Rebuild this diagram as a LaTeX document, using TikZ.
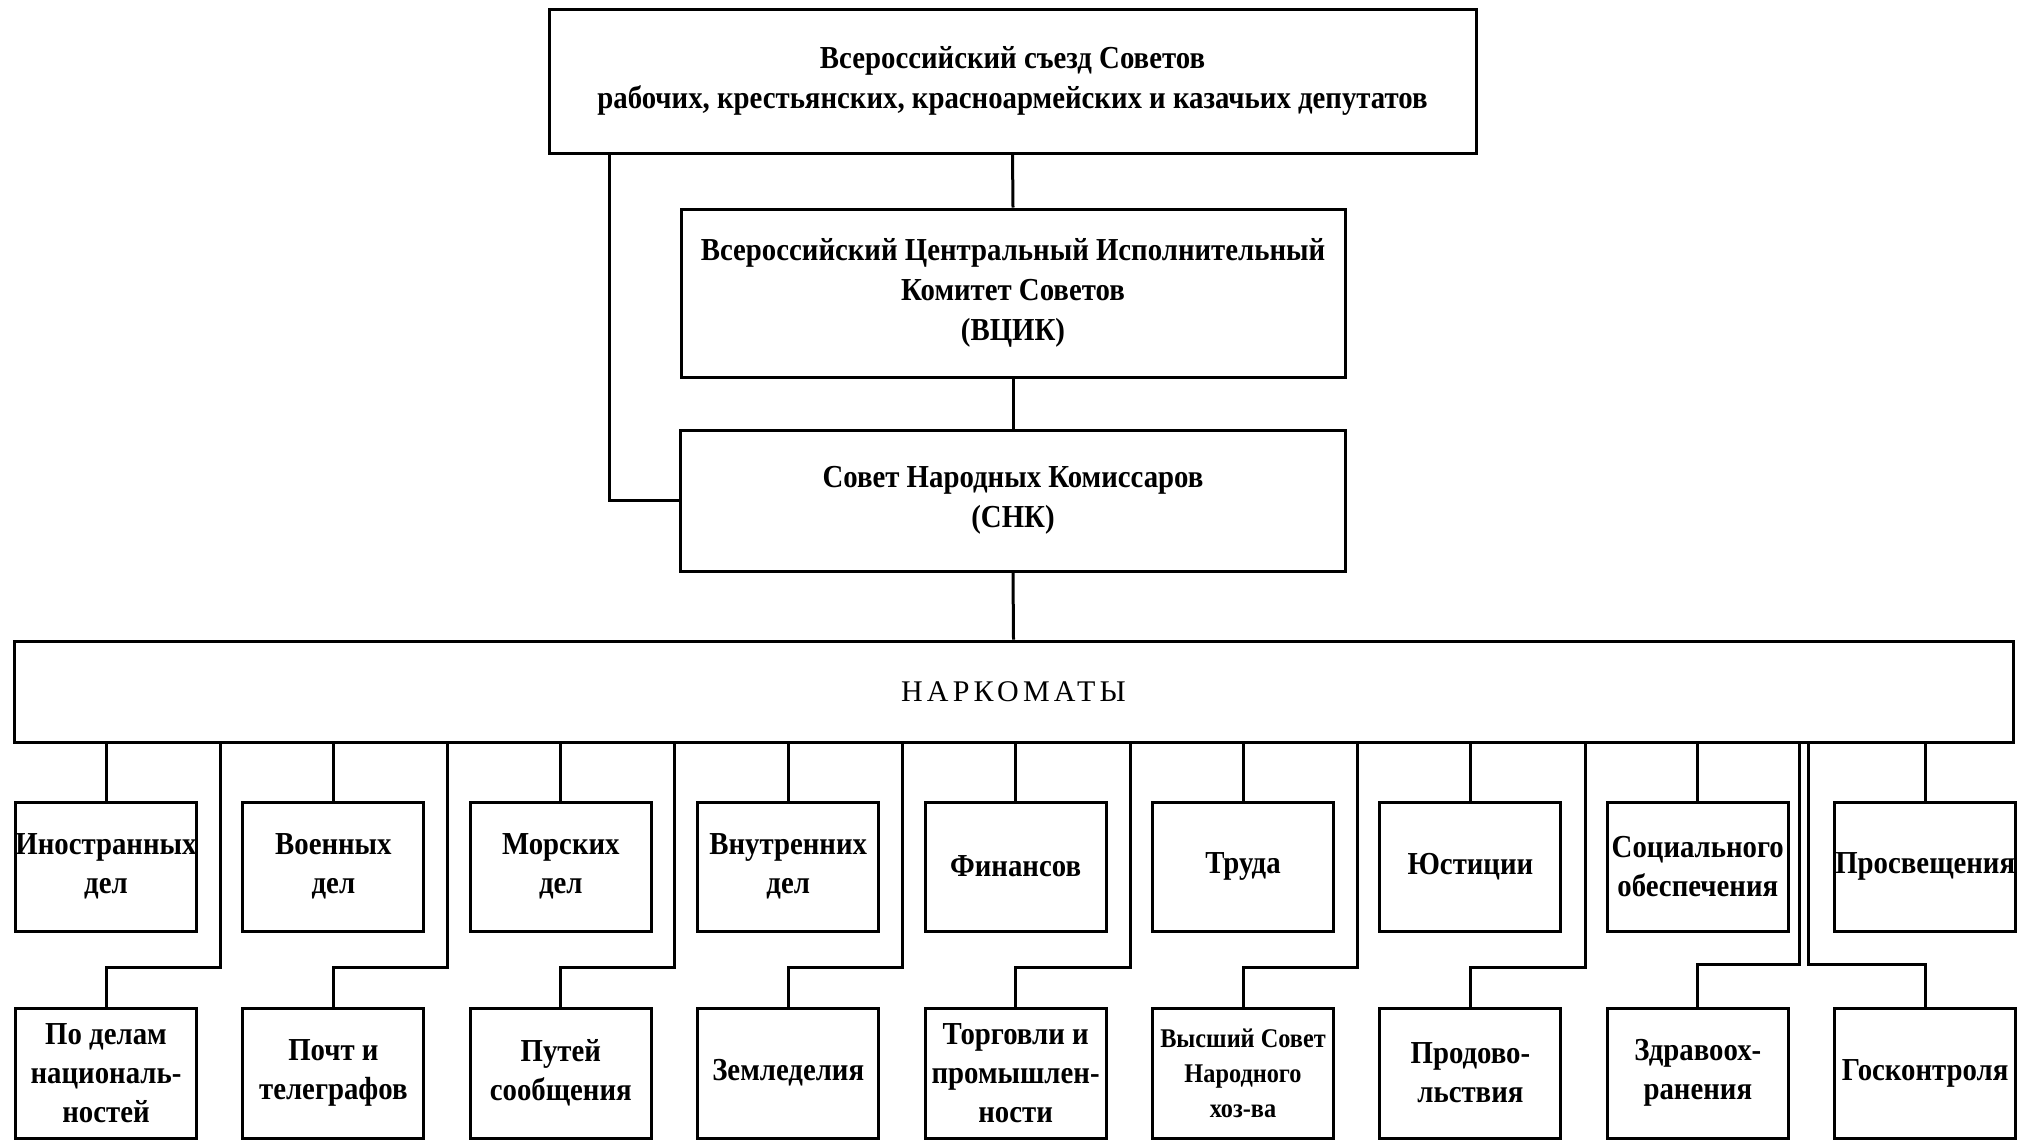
\documentclass[tikz,border=0pt]{standalone}
\usepackage{fontspec}
\setmainfont{Liberation Serif}[FakeStretch=0.9]
\newfontfamily\narkfont{Liberation Serif}[LetterSpace=14]
\begin{document}
\begin{tikzpicture}[x=0.5pt,y=-0.5pt,
  box/.style={draw, line width=1.5pt, rectangle, inner sep=0pt, align=center,
    font=\bfseries\fontsize{16}{19.5}\selectfont},
  small/.style={font=\bfseries\fontsize{13.5}{17.5}\selectfont},
  rowA/.style={box, minimum width=90.5pt, minimum height=64.5pt},
  rowB/.style={box, minimum width=90.5pt, minimum height=65pt},
  conn/.style={line width=1.5pt}]
\useasboundingbox (0,0) rectangle (2018,1141);

\node[box, minimum width=463.5pt, minimum height=72pt, font=\bfseries\fontsize{16}{20}\selectfont] (sezd) at (1012.5,81)
  {Всероссийский съезд Советов\\рабочих, крестьянских, красноармейских и казачьих депутатов};
\node[box, minimum width=332pt, minimum height=84pt, font=\bfseries\fontsize{16}{20}\selectfont] (vcik) at (1013,293)
  {Всероссийский Центральный Исполнительный\\Комитет Советов\\(ВЦИК)};
\node[box, minimum width=332.5pt, minimum height=70.5pt, font=\bfseries\fontsize{16}{20}\selectfont] (snk) at (1013,500.5)
  {Совет Народных Комиссаров\\(СНК)};
\node[box, minimum width=999.5pt, minimum height=50.5pt, font=\narkfont\fontsize{15}{18}\selectfont] (nark) at (1013.5,691.5)
  {НАРКОМАТЫ};

\draw[conn] (sezd.south) -- (vcik.north);
\draw[conn] (vcik.south) -- (snk.north);
\draw[conn] (snk.south) -- (nark.north);
\draw[conn] ([xshift=31pt]sezd.south west) |- (snk.west);

% row 1
\node[rowA] (a1) at (106,866.5) {Иностранных\\дел};
\node[rowA] (a2) at (333.4,866.5) {Военных\\дел};
\node[rowA] (a3) at (560.8,866.5) {Морских\\дел};
\node[rowA] (a4) at (788.2,866.5) {Внутренних\\дел};
\node[rowA] (a5) at (1015.6,866.5) {Финансов};
\node[rowA] (a6) at (1243,866.5) {Труда};
\node[rowA] (a7) at (1470.4,866.5) {Юстиции};
\node[rowA] (a8) at (1697.8,866.5) {Социального\\обеспечения};
\node[rowA] (a9) at (1925.2,866.5) {Просвещения};

% row 2
\node[rowB] (b1) at (106,1073) {По делам\\националь-\\ностей};
\node[rowB] (b2) at (333.4,1073) {Почт и\\телеграфов};
\node[rowB] (b3) at (560.8,1073) {Путей\\сообщения};
\node[rowB] (b4) at (788.2,1073) {Земледелия};
\node[rowB] (b5) at (1015.6,1073) {Торговли и\\промышлен-\\ности};
\node[rowB, small] (b6) at (1243,1073) {Высший Совет\\Народного\\хоз-ва};
\node[rowB] (b7) at (1470.4,1073) {Продово-\\льствия};
\node[rowB] (b8) at (1697.8,1073) {Здравоох-\\ранения};
\node[rowB] (b9) at (1925.2,1073) {Госконтроля};

% connectors to row 1
\foreach \i in {1,...,9} {
  \draw[conn] (a\i.north) -- (a\i.north |- nark.south);
}

% bypass coordinates
\coordinate (j1) at (220,967);
\coordinate (j2) at (447.5,967);
\coordinate (j3) at (674.5,967);
\coordinate (j4) at (902,967);
\coordinate (j5) at (1130,967);
\coordinate (j6) at (1357.5,967);
\coordinate (j7) at (1585,967);
\coordinate (j8) at (1799,964);
\coordinate (j9) at (1808,964);

\foreach \i in {1,...,9} {
  \draw[conn] (j\i |- nark.south) -- (j\i) -| (b\i.north);
}
\end{tikzpicture}
\end{document}
